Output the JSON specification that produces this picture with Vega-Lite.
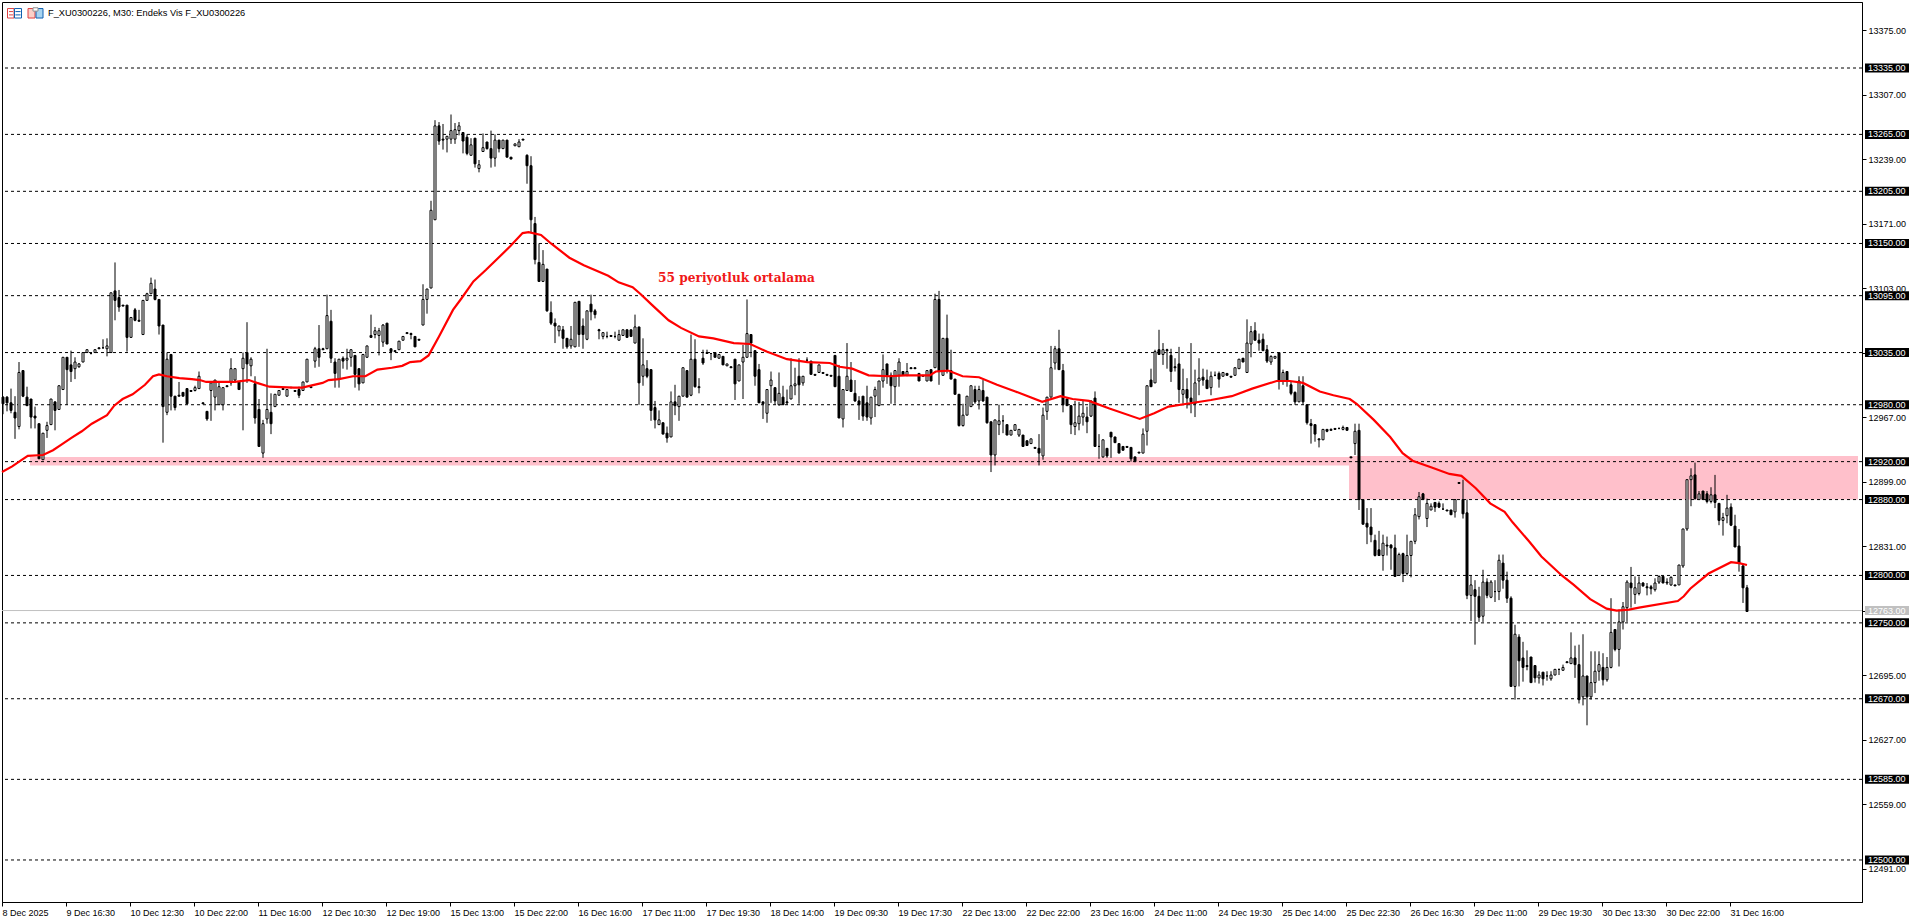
{"$schema":"https://vega.github.io/schema/vega-lite/v6.json","width":1860,"height":900,"autosize":{"type":"none"},"padding":{"left":2,"top":2,"right":58,"bottom":21},"background":"#ffffff","config":{"view":{"stroke":"#000000","strokeWidth":1},"text":{"font":"Liberation Sans"}},"datasets":{"bars":[
{"i":0,"o":12988,"h":12989,"l":12970,"c":12981},{"i":1,"o":12988,"h":12989,"l":12973,"c":12982},{"i":2,"o":12982,"h":12997,"l":12971,"c":12974},{"i":3,"o":12972,"h":12989,"l":12944,"c":12966},{"i":4,"o":12957,"h":13025,"l":12954,"c":13014},{"i":5,"o":13016,"h":13016,"l":12988,"c":12989},{"i":6,"o":12988,"h":12999,"l":12979,"c":12979},{"i":7,"o":12986,"h":12986,"l":12955,"c":12967},{"i":8,"o":12968,"h":12978,"l":12955,"c":12966},{"i":9,"o":12960,"h":12960,"l":12923,"c":12923},
{"i":10,"o":12922,"h":12950,"l":12922,"c":12950},{"i":11,"o":12953,"h":12962,"l":12945,"c":12958},{"i":12,"o":12959,"h":12986,"l":12959,"c":12986},{"i":13,"o":12983,"h":12983,"l":12953,"c":12974},{"i":14,"o":12975,"h":13000,"l":12975,"c":13000},{"i":15,"o":12996,"h":13030,"l":12996,"c":13030},{"i":16,"o":13030,"h":13030,"l":12980,"c":13017},{"i":17,"o":13022,"h":13037,"l":13004,"c":13015},{"i":18,"o":13018,"h":13030,"l":13007,"c":13025},{"i":19,"o":13020,"h":13024,"l":13019,"c":13023},
{"i":20,"o":13025,"h":13035,"l":13025,"c":13035},{"i":21,"o":13035,"h":13038,"l":13035,"c":13038},{"i":22,"o":13034,"h":13035,"l":13033,"c":13034},{"i":23,"o":13035,"h":13038,"l":13035,"c":13038},{"i":24,"o":13040,"h":13040,"l":13039,"c":13039},{"i":25,"o":13040,"h":13049,"l":13039,"c":13040},{"i":26,"o":13039,"h":13050,"l":13031,"c":13042},{"i":27,"o":13035,"h":13098,"l":13035,"c":13098},{"i":28,"o":13100,"h":13130,"l":13069,"c":13090},{"i":29,"o":13093,"h":13101,"l":13078,"c":13083},
{"i":30,"o":13085,"h":13085,"l":13084,"c":13084},{"i":31,"o":13085,"h":13085,"l":13036,"c":13051},{"i":32,"o":13051,"h":13072,"l":13051,"c":13072},{"i":33,"o":13080,"h":13082,"l":13068,"c":13069},{"i":34,"o":13069,"h":13080,"l":13068,"c":13068},{"i":35,"o":13054,"h":13090,"l":13054,"c":13090},{"i":36,"o":13090,"h":13098,"l":13090,"c":13097},{"i":37,"o":13097,"h":13114,"l":13097,"c":13108},{"i":38,"o":13102,"h":13112,"l":13090,"c":13091},{"i":39,"o":13091,"h":13091,"l":13054,"c":13063},
{"i":40,"o":13064,"h":13064,"l":12940,"c":12978},{"i":41,"o":12972,"h":13035,"l":12969,"c":13028},{"i":42,"o":13033,"h":13033,"l":12974,"c":12989},{"i":43,"o":12989,"h":12989,"l":12974,"c":12977},{"i":44,"o":12990,"h":13004,"l":12989,"c":12989},{"i":45,"o":12993,"h":12993,"l":12989,"c":12989},{"i":46,"o":12997,"h":12997,"l":12981,"c":12981},{"i":47,"o":12995,"h":12995,"l":12994,"c":12994},{"i":48,"o":12995,"h":13000,"l":12994,"c":12998},{"i":49,"o":12997,"h":13015,"l":12997,"c":13010},
{"i":50,"o":12982,"h":12982,"l":12981,"c":12981},{"i":51,"o":12973,"h":12973,"l":12963,"c":12965},{"i":52,"o":12995,"h":13003,"l":12963,"c":13003},{"i":53,"o":12988,"h":13006,"l":12974,"c":13006},{"i":54,"o":12980,"h":13003,"l":12980,"c":12999},{"i":55,"o":12980,"h":12998,"l":12974,"c":12998},{"i":56,"o":13000,"h":13000,"l":12999,"c":12999},{"i":57,"o":13003,"h":13029,"l":13000,"c":13018},{"i":58,"o":13006,"h":13018,"l":13003,"c":13018},{"i":59,"o":13004,"h":13004,"l":12996,"c":12996},
{"i":60,"o":13018,"h":13035,"l":12953,"c":13029},{"i":61,"o":13035,"h":13067,"l":13003,"c":13023},{"i":62,"o":13021,"h":13030,"l":13010,"c":13028},{"i":63,"o":13002,"h":13010,"l":12960,"c":12966},{"i":64,"o":12975,"h":12986,"l":12936,"c":12936},{"i":65,"o":12929,"h":12964,"l":12924,"c":12960},{"i":66,"o":12965,"h":13039,"l":12960,"c":12975},{"i":67,"o":12972,"h":12992,"l":12949,"c":12960},{"i":68,"o":12978,"h":12991,"l":12978,"c":12991},{"i":69,"o":12990,"h":12995,"l":12990,"c":12995},
{"i":70,"o":12997,"h":12997,"l":12996,"c":12996},{"i":71,"o":12989,"h":12996,"l":12989,"c":12996},{"i":72,"o":12998,"h":12999,"l":12998,"c":12998},{"i":73,"o":12995,"h":12995,"l":12994,"c":12994},{"i":74,"o":12996,"h":12999,"l":12987,"c":12990},{"i":75,"o":12995,"h":13004,"l":12995,"c":13004},{"i":76,"o":13004,"h":13028,"l":13004,"c":13028},{"i":77,"o":12999,"h":12999,"l":12998,"c":12998},{"i":78,"o":13026,"h":13041,"l":13019,"c":13039},{"i":79,"o":13039,"h":13064,"l":13020,"c":13030},
{"i":80,"o":13039,"h":13040,"l":13038,"c":13038},{"i":81,"o":13039,"h":13096,"l":13039,"c":13074},{"i":82,"o":13068,"h":13080,"l":13024,"c":13029},{"i":83,"o":13025,"h":13029,"l":12998,"c":13013},{"i":84,"o":13007,"h":13028,"l":12998,"c":13028},{"i":85,"o":13029,"h":13031,"l":13018,"c":13026},{"i":86,"o":13027,"h":13039,"l":13017,"c":13029},{"i":87,"o":13030,"h":13038,"l":13020,"c":13038},{"i":88,"o":13032,"h":13032,"l":12998,"c":13012},{"i":89,"o":13018,"h":13018,"l":12995,"c":13002},
{"i":90,"o":13003,"h":13033,"l":13003,"c":13033},{"i":91,"o":13030,"h":13042,"l":13030,"c":13042},{"i":92,"o":13053,"h":13075,"l":13051,"c":13051},{"i":93,"o":13054,"h":13062,"l":13050,"c":13058},{"i":94,"o":13053,"h":13061,"l":13032,"c":13058},{"i":95,"o":13046,"h":13065,"l":13041,"c":13064},{"i":96,"o":13066,"h":13066,"l":13044,"c":13044},{"i":97,"o":13039,"h":13039,"l":13027,"c":13036},{"i":98,"o":13037,"h":13037,"l":13036,"c":13036},{"i":99,"o":13038,"h":13047,"l":13038,"c":13047},
{"i":100,"o":13048,"h":13052,"l":13048,"c":13052},{"i":101,"o":13056,"h":13056,"l":13055,"c":13055},{"i":102,"o":13055,"h":13056,"l":13049,"c":13054},{"i":103,"o":13052,"h":13052,"l":13041,"c":13041},{"i":104,"o":13049,"h":13049,"l":13048,"c":13048},{"i":105,"o":13064,"h":13107,"l":13064,"c":13091},{"i":106,"o":13091,"h":13102,"l":13076,"c":13102},{"i":107,"o":13103,"h":13195,"l":13103,"c":13185},{"i":108,"o":13175,"h":13280,"l":13175,"c":13274},{"i":109,"o":13274,"h":13278,"l":13254,"c":13258},
{"i":110,"o":13260,"h":13276,"l":13249,"c":13259},{"i":111,"o":13260,"h":13263,"l":13246,"c":13263},{"i":112,"o":13260,"h":13286,"l":13255,"c":13269},{"i":113,"o":13260,"h":13277,"l":13255,"c":13270},{"i":114,"o":13269,"h":13278,"l":13264,"c":13274},{"i":115,"o":13267,"h":13267,"l":13245,"c":13258},{"i":116,"o":13262,"h":13265,"l":13243,"c":13245},{"i":117,"o":13243,"h":13261,"l":13243,"c":13254},{"i":118,"o":13261,"h":13261,"l":13230,"c":13234},{"i":119,"o":13229,"h":13238,"l":13225,"c":13233},
{"i":120,"o":13247,"h":13266,"l":13247,"c":13251},{"i":121,"o":13257,"h":13257,"l":13249,"c":13250},{"i":122,"o":13250,"h":13269,"l":13230,"c":13240},{"i":123,"o":13240,"h":13265,"l":13231,"c":13259},{"i":124,"o":13259,"h":13259,"l":13246,"c":13250},{"i":125,"o":13250,"h":13259,"l":13250,"c":13259},{"i":126,"o":13259,"h":13259,"l":13241,"c":13241},{"i":127,"o":13241,"h":13241,"l":13239,"c":13239},{"i":128,"o":13253,"h":13255,"l":13253,"c":13255},{"i":129,"o":13252,"h":13260,"l":13252,"c":13257},
{"i":130,"o":13260,"h":13260,"l":13259,"c":13259},{"i":131,"o":13243,"h":13244,"l":13213,"c":13232},{"i":132,"o":13232,"h":13242,"l":13162,"c":13175},{"i":133,"o":13171,"h":13178,"l":13128,"c":13133},{"i":134,"o":13130,"h":13150,"l":13110,"c":13110},{"i":135,"o":13110,"h":13143,"l":13110,"c":13128},{"i":136,"o":13123,"h":13123,"l":13078,"c":13079},{"i":137,"o":13077,"h":13089,"l":13064,"c":13066},{"i":138,"o":13066,"h":13071,"l":13045,"c":13063},{"i":139,"o":13058,"h":13063,"l":13052,"c":13063},
{"i":140,"o":13059,"h":13063,"l":13039,"c":13050},{"i":141,"o":13050,"h":13050,"l":13039,"c":13041},{"i":142,"o":13042,"h":13063,"l":13039,"c":13049},{"i":143,"o":13041,"h":13088,"l":13041,"c":13088},{"i":144,"o":13089,"h":13089,"l":13041,"c":13054},{"i":145,"o":13063,"h":13071,"l":13039,"c":13054},{"i":146,"o":13049,"h":13079,"l":13048,"c":13079},{"i":147,"o":13086,"h":13096,"l":13069,"c":13078},{"i":148,"o":13079,"h":13081,"l":13071,"c":13075},{"i":149,"o":13059,"h":13060,"l":13049,"c":13058},
{"i":150,"o":13052,"h":13056,"l":13049,"c":13056},{"i":151,"o":13052,"h":13057,"l":13050,"c":13052},{"i":152,"o":13053,"h":13053,"l":13052,"c":13052},{"i":153,"o":13052,"h":13057,"l":13050,"c":13052},{"i":154,"o":13048,"h":13059,"l":13048,"c":13054},{"i":155,"o":13053,"h":13059,"l":13053,"c":13059},{"i":156,"o":13059,"h":13059,"l":13051,"c":13051},{"i":157,"o":13059,"h":13059,"l":13052,"c":13052},{"i":158,"o":13045,"h":13075,"l":13045,"c":13062},{"i":159,"o":13062,"h":13062,"l":12980,"c":13003},
{"i":160,"o":13010,"h":13050,"l":13000,"c":13022},{"i":161,"o":13018,"h":13027,"l":13008,"c":13010},{"i":162,"o":13017,"h":13017,"l":12963,"c":12974},{"i":163,"o":12977,"h":12984,"l":12955,"c":12964},{"i":164,"o":12959,"h":12974,"l":12959,"c":12964},{"i":165,"o":12961,"h":12961,"l":12949,"c":12949},{"i":166,"o":12950,"h":12957,"l":12940,"c":12945},{"i":167,"o":12946,"h":12994,"l":12946,"c":12983},{"i":168,"o":12983,"h":13001,"l":12969,"c":12979},{"i":169,"o":12978,"h":12989,"l":12963,"c":12989},
{"i":170,"o":12989,"h":13019,"l":12989,"c":13019},{"i":171,"o":13016,"h":13016,"l":12988,"c":12988},{"i":172,"o":12990,"h":13054,"l":12989,"c":13028},{"i":173,"o":13028,"h":13049,"l":12998,"c":12999},{"i":174,"o":12999,"h":13008,"l":12992,"c":12998},{"i":175,"o":13029,"h":13038,"l":13022,"c":13024},{"i":176,"o":13035,"h":13038,"l":13034,"c":13034},{"i":177,"o":13034,"h":13034,"l":13027,"c":13034},{"i":178,"o":13035,"h":13035,"l":13030,"c":13030},{"i":179,"o":13029,"h":13033,"l":13029,"c":13033},
{"i":180,"o":13031,"h":13031,"l":13022,"c":13022},{"i":181,"o":13021,"h":13023,"l":13021,"c":13023},{"i":182,"o":13020,"h":13020,"l":13019,"c":13019},{"i":183,"o":13028,"h":13028,"l":12985,"c":13002},{"i":184,"o":13005,"h":13022,"l":13005,"c":13022},{"i":185,"o":13025,"h":13043,"l":12986,"c":13030},{"i":186,"o":13030,"h":13091,"l":13030,"c":13055},{"i":187,"o":13054,"h":13054,"l":13030,"c":13045},{"i":188,"o":13037,"h":13037,"l":13000,"c":13010},{"i":189,"o":13017,"h":13023,"l":12982,"c":12982},
{"i":190,"o":12983,"h":12983,"l":12965,"c":12981},{"i":191,"o":12971,"h":12996,"l":12961,"c":12996},{"i":192,"o":13000,"h":13015,"l":12982,"c":13006},{"i":193,"o":12998,"h":12998,"l":12980,"c":12984},{"i":194,"o":12980,"h":13014,"l":12979,"c":12992},{"i":195,"o":12988,"h":13000,"l":12980,"c":12980},{"i":196,"o":12983,"h":12996,"l":12980,"c":12982},{"i":197,"o":12986,"h":13029,"l":12986,"c":13000},{"i":198,"o":13000,"h":13019,"l":12990,"c":13002},{"i":199,"o":13010,"h":13029,"l":12981,"c":13001},
{"i":200,"o":13003,"h":13010,"l":13000,"c":13010},{"i":201,"o":13027,"h":13030,"l":13024,"c":13027},{"i":202,"o":13026,"h":13026,"l":13012,"c":13012},{"i":203,"o":13012,"h":13012,"l":13011,"c":13011},{"i":204,"o":13014,"h":13022,"l":13014,"c":13022},{"i":205,"o":13014,"h":13014,"l":13013,"c":13013},{"i":206,"o":13012,"h":13012,"l":13011,"c":13011},{"i":207,"o":13011,"h":13011,"l":13010,"c":13010},{"i":208,"o":13032,"h":13032,"l":12999,"c":12999},{"i":209,"o":13010,"h":13022,"l":12966,"c":12966},
{"i":210,"o":12965,"h":12996,"l":12956,"c":12996},{"i":211,"o":12995,"h":13045,"l":12995,"c":13010},{"i":212,"o":13006,"h":13025,"l":12994,"c":12994},{"i":213,"o":12992,"h":13006,"l":12983,"c":12984},{"i":214,"o":12984,"h":12989,"l":12964,"c":12980},{"i":215,"o":12989,"h":12989,"l":12963,"c":12968},{"i":216,"o":12982,"h":13000,"l":12963,"c":12967},{"i":217,"o":12966,"h":12988,"l":12959,"c":12988},{"i":218,"o":12989,"h":12999,"l":12967,"c":12996},{"i":219,"o":12979,"h":13005,"l":12979,"c":13005},
{"i":220,"o":13005,"h":13033,"l":12998,"c":13017},{"i":221,"o":13023,"h":13023,"l":13002,"c":13010},{"i":222,"o":13011,"h":13014,"l":12981,"c":13000},{"i":223,"o":12999,"h":13016,"l":12981,"c":13016},{"i":224,"o":13011,"h":13029,"l":12999,"c":13025},{"i":225,"o":13015,"h":13015,"l":13011,"c":13011},{"i":226,"o":13011,"h":13024,"l":13010,"c":13015},{"i":227,"o":13019,"h":13019,"l":13018,"c":13018},{"i":228,"o":13019,"h":13019,"l":13018,"c":13018},{"i":229,"o":13013,"h":13013,"l":13005,"c":13005},
{"i":230,"o":13011,"h":13011,"l":13010,"c":13010},{"i":231,"o":13005,"h":13016,"l":13005,"c":13016},{"i":232,"o":13017,"h":13017,"l":13005,"c":13005},{"i":233,"o":13019,"h":13097,"l":13019,"c":13091},{"i":234,"o":13091,"h":13100,"l":13001,"c":13015},{"i":235,"o":13011,"h":13050,"l":13011,"c":13050},{"i":236,"o":13050,"h":13075,"l":13013,"c":13017},{"i":237,"o":13016,"h":13038,"l":13007,"c":13007},{"i":238,"o":13007,"h":13007,"l":12991,"c":12991},{"i":239,"o":12991,"h":12991,"l":12957,"c":12958},
{"i":240,"o":12958,"h":12981,"l":12957,"c":12969},{"i":241,"o":12969,"h":12989,"l":12969,"c":12989},{"i":242,"o":12978,"h":13000,"l":12978,"c":13000},{"i":243,"o":12996,"h":13000,"l":12981,"c":12983},{"i":244,"o":12984,"h":13000,"l":12975,"c":12996},{"i":245,"o":12995,"h":13006,"l":12983,"c":12984},{"i":246,"o":12988,"h":12988,"l":12960,"c":12961},{"i":247,"o":12962,"h":12962,"l":12909,"c":12927},{"i":248,"o":12927,"h":12964,"l":12916,"c":12964},{"i":249,"o":12959,"h":12980,"l":12948,"c":12963},
{"i":250,"o":12963,"h":12969,"l":12950,"c":12963},{"i":251,"o":12959,"h":12959,"l":12948,"c":12948},{"i":252,"o":12948,"h":12953,"l":12948,"c":12953},{"i":253,"o":12953,"h":12959,"l":12953,"c":12959},{"i":254,"o":12948,"h":12954,"l":12946,"c":12954},{"i":255,"o":12948,"h":12948,"l":12936,"c":12936},{"i":256,"o":12942,"h":12942,"l":12937,"c":12937},{"i":257,"o":12939,"h":12944,"l":12939,"c":12944},{"i":258,"o":12935,"h":12935,"l":12934,"c":12934},{"i":259,"o":12934,"h":12949,"l":12916,"c":12929},
{"i":260,"o":12926,"h":12977,"l":12922,"c":12969},{"i":261,"o":12973,"h":12988,"l":12964,"c":12988},{"i":262,"o":12988,"h":13042,"l":12988,"c":13019},{"i":263,"o":13024,"h":13042,"l":13017,"c":13039},{"i":264,"o":13039,"h":13059,"l":13017,"c":13017},{"i":265,"o":13016,"h":13023,"l":12972,"c":12980},{"i":266,"o":12986,"h":12986,"l":12979,"c":12979},{"i":267,"o":12979,"h":12979,"l":12949,"c":12959},{"i":268,"o":12957,"h":12984,"l":12948,"c":12961},{"i":269,"o":12960,"h":12983,"l":12953,"c":12968},
{"i":270,"o":12967,"h":12984,"l":12958,"c":12971},{"i":271,"o":12967,"h":12978,"l":12950,"c":12962},{"i":272,"o":12968,"h":12984,"l":12967,"c":12984},{"i":273,"o":12987,"h":12994,"l":12936,"c":12936},{"i":274,"o":12936,"h":12949,"l":12923,"c":12936},{"i":275,"o":12925,"h":12943,"l":12924,"c":12943},{"i":276,"o":12934,"h":12934,"l":12924,"c":12926},{"i":277,"o":12951,"h":12951,"l":12924,"c":12946},{"i":278,"o":12946,"h":12946,"l":12940,"c":12940},{"i":279,"o":12939,"h":12939,"l":12929,"c":12929},
{"i":280,"o":12936,"h":12936,"l":12932,"c":12932},{"i":281,"o":12936,"h":12936,"l":12935,"c":12935},{"i":282,"o":12935,"h":12935,"l":12920,"c":12923},{"i":283,"o":12925,"h":12925,"l":12920,"c":12920},{"i":284,"o":12930,"h":12930,"l":12929,"c":12929},{"i":285,"o":12929,"h":12955,"l":12929,"c":12949},{"i":286,"o":12952,"h":13000,"l":12937,"c":13000},{"i":287,"o":13006,"h":13018,"l":12999,"c":12999},{"i":288,"o":13003,"h":13038,"l":13003,"c":13036},{"i":289,"o":13038,"h":13059,"l":13033,"c":13033},
{"i":290,"o":13033,"h":13045,"l":13022,"c":13038},{"i":291,"o":13038,"h":13039,"l":13018,"c":13037},{"i":292,"o":13032,"h":13039,"l":13004,"c":13015},{"i":293,"o":13020,"h":13029,"l":13015,"c":13019},{"i":294,"o":13023,"h":13041,"l":12982,"c":12996},{"i":295,"o":12991,"h":13018,"l":12981,"c":12996},{"i":296,"o":12996,"h":13008,"l":12976,"c":12987},{"i":297,"o":12987,"h":13045,"l":12971,"c":12983},{"i":298,"o":12981,"h":13017,"l":12967,"c":13003},{"i":299,"o":13005,"h":13029,"l":12990,"c":13008},
{"i":300,"o":13009,"h":13018,"l":13000,"c":13006},{"i":301,"o":13006,"h":13017,"l":12997,"c":12997},{"i":302,"o":12998,"h":13015,"l":12990,"c":13010},{"i":303,"o":13011,"h":13015,"l":13010,"c":13011},{"i":304,"o":13013,"h":13015,"l":12998,"c":13007},{"i":305,"o":13010,"h":13014,"l":13010,"c":13014},{"i":306,"o":13013,"h":13013,"l":13011,"c":13011},{"i":307,"o":13010,"h":13010,"l":13009,"c":13009},{"i":308,"o":13011,"h":13019,"l":13011,"c":13019},{"i":309,"o":13018,"h":13028,"l":13018,"c":13028},
{"i":310,"o":13029,"h":13029,"l":13025,"c":13025},{"i":311,"o":13014,"h":13070,"l":13014,"c":13045},{"i":312,"o":13044,"h":13063,"l":13030,"c":13057},{"i":313,"o":13058,"h":13067,"l":13048,"c":13048},{"i":314,"o":13048,"h":13055,"l":13037,"c":13045},{"i":315,"o":13049,"h":13055,"l":13037,"c":13037},{"i":316,"o":13038,"h":13043,"l":13024,"c":13026},{"i":317,"o":13025,"h":13032,"l":13022,"c":13031},{"i":318,"o":13029,"h":13031,"l":13029,"c":13031},{"i":319,"o":13035,"h":13035,"l":12996,"c":13005},
{"i":320,"o":13005,"h":13017,"l":13001,"c":13014},{"i":321,"o":13015,"h":13015,"l":12999,"c":13006},{"i":322,"o":13001,"h":13004,"l":12990,"c":12992},{"i":323,"o":12993,"h":12994,"l":12980,"c":12983},{"i":324,"o":12983,"h":13010,"l":12983,"c":13005},{"i":325,"o":13000,"h":13010,"l":12980,"c":12983},{"i":326,"o":12980,"h":12980,"l":12959,"c":12961},{"i":327,"o":12960,"h":12965,"l":12939,"c":12958},{"i":328,"o":12959,"h":12959,"l":12941,"c":12949},{"i":329,"o":12944,"h":12944,"l":12935,"c":12943},
{"i":330,"o":12943,"h":12954,"l":12943,"c":12954},{"i":331,"o":12954,"h":12954,"l":12951,"c":12952},{"i":332,"o":12954,"h":12955,"l":12953,"c":12953},{"i":333,"o":12955,"h":12955,"l":12954,"c":12954},{"i":334,"o":12955,"h":12956,"l":12954,"c":12955},{"i":335,"o":12954,"h":12958,"l":12953,"c":12956},{"i":336,"o":12956,"h":12956,"l":12953,"c":12953},{"i":337,"o":12925,"h":12925,"l":12924,"c":12924},{"i":338,"o":12939,"h":12960,"l":12927,"c":12952},{"i":339,"o":12953,"h":12960,"l":12869,"c":12880},
{"i":340,"o":12880,"h":12880,"l":12854,"c":12854},{"i":341,"o":12855,"h":12871,"l":12833,"c":12851},{"i":342,"o":12851,"h":12871,"l":12835,"c":12843},{"i":343,"o":12837,"h":12843,"l":12820,"c":12821},{"i":344,"o":12827,"h":12847,"l":12821,"c":12821},{"i":345,"o":12821,"h":12843,"l":12805,"c":12834},{"i":346,"o":12832,"h":12841,"l":12821,"c":12831},{"i":347,"o":12832,"h":12833,"l":12806,"c":12829},{"i":348,"o":12829,"h":12843,"l":12799,"c":12799},{"i":349,"o":12800,"h":12824,"l":12800,"c":12822},
{"i":350,"o":12823,"h":12824,"l":12793,"c":12802},{"i":351,"o":12802,"h":12843,"l":12800,"c":12821},{"i":352,"o":12821,"h":12836,"l":12798,"c":12836},{"i":353,"o":12836,"h":12871,"l":12833,"c":12864},{"i":354,"o":12862,"h":12888,"l":12859,"c":12883},{"i":355,"o":12886,"h":12887,"l":12880,"c":12880},{"i":356,"o":12860,"h":12881,"l":12851,"c":12876},{"i":357,"o":12869,"h":12876,"l":12869,"c":12873},{"i":358,"o":12877,"h":12877,"l":12867,"c":12872},{"i":359,"o":12876,"h":12878,"l":12871,"c":12872},
{"i":360,"o":12870,"h":12876,"l":12869,"c":12870},{"i":361,"o":12869,"h":12869,"l":12868,"c":12868},{"i":362,"o":12869,"h":12869,"l":12864,"c":12864},{"i":363,"o":12867,"h":12880,"l":12861,"c":12880},{"i":364,"o":12898,"h":12898,"l":12897,"c":12897},{"i":365,"o":12880,"h":12901,"l":12860,"c":12865},{"i":366,"o":12866,"h":12880,"l":12775,"c":12779},{"i":367,"o":12779,"h":12800,"l":12752,"c":12790},{"i":368,"o":12785,"h":12795,"l":12727,"c":12778},{"i":369,"o":12778,"h":12788,"l":12751,"c":12756},
{"i":370,"o":12757,"h":12806,"l":12751,"c":12793},{"i":371,"o":12793,"h":12797,"l":12776,"c":12779},{"i":372,"o":12777,"h":12795,"l":12776,"c":12793},{"i":373,"o":12783,"h":12795,"l":12772,"c":12783},{"i":374,"o":12783,"h":12822,"l":12774,"c":12816},{"i":375,"o":12813,"h":12822,"l":12786,"c":12795},{"i":376,"o":12795,"h":12804,"l":12771,"c":12776},{"i":377,"o":12776,"h":12778,"l":12683,"c":12683},{"i":378,"o":12683,"h":12748,"l":12669,"c":12738},{"i":379,"o":12735,"h":12738,"l":12683,"c":12710},
{"i":380,"o":12713,"h":12730,"l":12688,"c":12703},{"i":381,"o":12705,"h":12721,"l":12700,"c":12704},{"i":382,"o":12714,"h":12714,"l":12687,"c":12687},{"i":383,"o":12705,"h":12705,"l":12687,"c":12692},{"i":384,"o":12692,"h":12699,"l":12686,"c":12695},{"i":385,"o":12698,"h":12698,"l":12684,"c":12691},{"i":386,"o":12694,"h":12699,"l":12689,"c":12694},{"i":387,"o":12691,"h":12699,"l":12689,"c":12695},{"i":388,"o":12695,"h":12701,"l":12695,"c":12701},{"i":389,"o":12701,"h":12701,"l":12695,"c":12701},
{"i":390,"o":12700,"h":12706,"l":12700,"c":12703},{"i":391,"o":12709,"h":12709,"l":12708,"c":12708},{"i":392,"o":12707,"h":12740,"l":12707,"c":12713},{"i":393,"o":12713,"h":12726,"l":12692,"c":12706},{"i":394,"o":12706,"h":12727,"l":12665,"c":12669},{"i":395,"o":12672,"h":12738,"l":12663,"c":12694},{"i":396,"o":12694,"h":12694,"l":12642,"c":12672},{"i":397,"o":12672,"h":12720,"l":12669,"c":12687},{"i":398,"o":12687,"h":12720,"l":12676,"c":12699},{"i":399,"o":12699,"h":12720,"l":12689,"c":12706},
{"i":400,"o":12703,"h":12718,"l":12684,"c":12690},{"i":401,"o":12690,"h":12714,"l":12688,"c":12703},{"i":402,"o":12703,"h":12776,"l":12702,"c":12740},{"i":403,"o":12743,"h":12743,"l":12720,"c":12722},{"i":404,"o":12722,"h":12764,"l":12704,"c":12751},{"i":405,"o":12751,"h":12772,"l":12743,"c":12767},{"i":406,"o":12766,"h":12795,"l":12751,"c":12793},{"i":407,"o":12792,"h":12809,"l":12766,"c":12787},{"i":408,"o":12780,"h":12799,"l":12770,"c":12787},{"i":409,"o":12781,"h":12799,"l":12779,"c":12792},
{"i":410,"o":12792,"h":12793,"l":12788,"c":12789},{"i":411,"o":12788,"h":12792,"l":12779,"c":12787},{"i":412,"o":12788,"h":12790,"l":12780,"c":12786},{"i":413,"o":12785,"h":12797,"l":12783,"c":12792},{"i":414,"o":12793,"h":12800,"l":12791,"c":12799},{"i":415,"o":12799,"h":12799,"l":12792,"c":12792},{"i":416,"o":12793,"h":12797,"l":12790,"c":12792},{"i":417,"o":12790,"h":12799,"l":12789,"c":12798},{"i":418,"o":12790,"h":12790,"l":12789,"c":12789},{"i":419,"o":12790,"h":12811,"l":12790,"c":12811},
{"i":420,"o":12810,"h":12849,"l":12808,"c":12849},{"i":421,"o":12849,"h":12901,"l":12847,"c":12901},{"i":422,"o":12901,"h":12913,"l":12873,"c":12905},{"i":423,"o":12906,"h":12919,"l":12880,"c":12881},{"i":424,"o":12880,"h":12889,"l":12880,"c":12886},{"i":425,"o":12889,"h":12889,"l":12880,"c":12880},{"i":426,"o":12886,"h":12889,"l":12876,"c":12878},{"i":427,"o":12878,"h":12893,"l":12876,"c":12885},{"i":428,"o":12885,"h":12906,"l":12871,"c":12877},{"i":429,"o":12876,"h":12876,"l":12853,"c":12858},
{"i":430,"o":12858,"h":12866,"l":12842,"c":12861},{"i":431,"o":12863,"h":12885,"l":12855,"c":12871},{"i":432,"o":12872,"h":12876,"l":12852,"c":12853},{"i":433,"o":12852,"h":12864,"l":12830,"c":12830},{"i":434,"o":12831,"h":12849,"l":12804,"c":12813},{"i":435,"o":12810,"h":12811,"l":12771,"c":12787},{"i":436,"o":12787,"h":12790,"l":12762,"c":12762}
],"ma":[{"i":-0.25,"v":12909},{"i":2.3,"v":12915},{"i":4.4,"v":12921},{"i":6.2,"v":12926},{"i":10,"v":12927},{"i":12.5,"v":12932},{"i":14.6,"v":12938},{"i":17.1,"v":12945},{"i":19.7,"v":12952},{"i":22.2,"v":12960},{"i":26,"v":12969},{"i":27.8,"v":12979},{"i":29.9,"v":12986},{"i":32.4,"v":12991},{"i":35.5,"v":13001},{"i":37.5,"v":13010},{"i":39,"v":13012},{"i":41,"v":13010},{"i":44.1,"v":13008},{"i":47.2,"v":13007},{"i":49.2,"v":13006},{"i":50.8,"v":13004},{"i":57.9,"v":13004},{"i":61.5,"v":13006},{"i":63.5,"v":13003},{"i":66.6,"v":12999},{"i":72.7,"v":12998},{"i":74.8,"v":12998},{"i":79.9,"v":13003},{"i":81.4,"v":13006},{"i":84,"v":13007},{"i":87.5,"v":13010},{"i":90.6,"v":13010},{"i":93.6,"v":13017},{"i":97.2,"v":13019},{"i":99.8,"v":13021},{"i":101.8,"v":13025},{"i":104.4,"v":13026},{"i":106.4,"v":13032},{"i":109,"v":13052},{"i":112.5,"v":13080},{"i":114.6,"v":13092},{"i":117.6,"v":13110},{"i":120.7,"v":13122},{"i":126.8,"v":13147},{"i":129.9,"v":13161},{"i":131.4,"v":13162},{"i":134.5,"v":13159},{"i":137,"v":13150},{"i":141.6,"v":13135},{"i":145.2,"v":13127},{"i":151.3,"v":13116},{"i":153.9,"v":13109},{"i":157.4,"v":13104},{"i":159.3,"v":13097},{"i":162.3,"v":13085},{"i":166.4,"v":13069},{"i":169.5,"v":13061},{"i":174,"v":13052},{"i":177.6,"v":13050},{"i":182.7,"v":13045},{"i":186.8,"v":13044},{"i":190.9,"v":13036},{"i":196,"v":13028},{"i":201.1,"v":13025},{"i":206.7,"v":13024},{"i":209.2,"v":13020},{"i":212.3,"v":13018},{"i":216.4,"v":13011},{"i":221.5,"v":13010},{"i":225.6,"v":13011},{"i":231.7,"v":13011},{"i":233.2,"v":13015},{"i":236.3,"v":13016},{"i":239.9,"v":13010},{"i":244,"v":13009},{"i":248.5,"v":13001},{"i":253.1,"v":12994},{"i":259.8,"v":12983},{"i":264.4,"v":12989},{"i":267.4,"v":12986},{"i":271.5,"v":12984},{"i":276.6,"v":12976},{"i":284.2,"v":12965},{"i":287.8,"v":12971},{"i":291.4,"v":12978},{"i":296,"v":12981},{"i":302,"v":12985},{"i":307.2,"v":12989},{"i":312.3,"v":12997},{"i":318.4,"v":13005},{"i":321.7,"v":13005},{"i":325,"v":13003},{"i":329.2,"v":12994},{"i":332.6,"v":12990},{"i":336.7,"v":12986},{"i":338.4,"v":12981},{"i":342.7,"v":12964},{"i":346.8,"v":12946},{"i":349.9,"v":12929},{"i":352.4,"v":12921},{"i":357,"v":12914},{"i":361.6,"v":12907},{"i":364.6,"v":12905},{"i":368.2,"v":12892},{"i":371.8,"v":12876},{"i":375.4,"v":12867},{"i":377.4,"v":12856},{"i":381.5,"v":12836},{"i":384.6,"v":12820},{"i":389.7,"v":12800},{"i":392.7,"v":12790},{"i":396.8,"v":12775},{"i":400.9,"v":12765},{"i":403.4,"v":12763},{"i":406.5,"v":12764},{"i":409,"v":12766},{"i":418.7,"v":12773},{"i":420.2,"v":12778},{"i":421.8,"v":12786},{"i":426.4,"v":12802},{"i":432,"v":12814},{"i":434,"v":12813},{"i":436,"v":12811}],
"zones":[{"start":6.75,"end":336.5,"top":12925,"bottom":12916},{"start":336.5,"end":463.75,"top":12926,"bottom":12880}],
"levels":[{"price":13335,"label":"13335.00"},{"price":13265,"label":"13265.00"},{"price":13205,"label":"13205.00"},{"price":13150,"label":"13150.00"},{"price":13095,"label":"13095.00"},{"price":13035,"label":"13035.00"},{"price":12980,"label":"12980.00"},{"price":12920,"label":"12920.00"},{"price":12880,"label":"12880.00"},{"price":12800,"label":"12800.00"},{"price":12750,"label":"12750.00"},{"price":12670,"label":"12670.00"},{"price":12585,"label":"12585.00"},{"price":12500,"label":"12500.00"}],
"last":[{"price":12763,"label":"12763.00"}]},
"layer":[
{"data":{"name":"zones"},"mark":{"type":"rect","color":"#FFC0CB"},"encoding":{"x":{"field":"start","type":"quantitative","title":null,"scale":{"domain":[-0.25,464.75],"nice":false,"zero":false,"padding":0},"axis":{"values":[-0.25,15.75,31.75,47.75,63.75,79.75,95.75,111.75,127.75,143.75,159.75,175.75,191.75,207.75,223.75,239.75,255.75,271.75,287.75,303.75,319.75,335.75,351.75,367.75,383.75,399.75,415.75,431.75],"labelExpr":"['8 Dec 2025','9 Dec 16:30','10 Dec 12:30','10 Dec 22:00','11 Dec 16:00','12 Dec 10:30','12 Dec 19:00','15 Dec 13:00','15 Dec 22:00','16 Dec 16:00','17 Dec 11:00','17 Dec 19:30','18 Dec 14:00','19 Dec 09:30','19 Dec 17:30','22 Dec 13:00','22 Dec 22:00','23 Dec 16:00','24 Dec 11:00','24 Dec 19:30','25 Dec 14:00','25 Dec 22:30','26 Dec 16:30','29 Dec 11:00','29 Dec 19:30','30 Dec 13:30','30 Dec 22:00','31 Dec 16:00'][round((datum.value+0.25)/16)]","labelAlign":"left","labelBaseline":"top","labelPadding":2,"labelFont":"Liberation Sans","labelFontSize":9,"labelColor":"#000000","labelOverlap":false,"labelBound":false,"labelFlush":false,"tickSize":4,"tickColor":"#000000","domainColor":"#000000","grid":false,"title":null}},"x2":{"field":"end"},"y":{"field":"top","type":"quantitative","title":null,"scale":{"domain":[12455.7,13404.6],"nice":false,"zero":false},"axis":{"orient":"right","values":[13375,13341,13307,13273,13239,13205,13171,13137,13103,13069,13035,13001,12967,12933,12899,12865,12831,12797,12763,12729,12695,12661,12627,12593,12559,12525,12491],"format":".2f","labelFont":"Liberation Sans","labelFontSize":9,"labelColor":"#000000","labelPadding":2,"labelOverlap":false,"labelBound":false,"labelFlush":false,"tickSize":4,"tickColor":"#000000","domainColor":"#000000","grid":false,"title":null}},"y2":{"field":"bottom"}}},
{"data":{"name":"levels"},"mark":{"type":"rule","color":"#000000","strokeWidth":1,"strokeDash":[3,3]},"encoding":{"y":{"field":"price","type":"quantitative"}}},
{"data":{"name":"last"},"mark":{"type":"rule","color":"#C0C0C0","strokeWidth":1},"encoding":{"y":{"field":"price","type":"quantitative"}}},
{"data":{"name":"bars"},"mark":{"type":"rule","color":"#000000","strokeWidth":1},"encoding":{"x":{"field":"i","type":"quantitative"},"y":{"field":"l","type":"quantitative"},"y2":{"field":"h"}}},
{"data":{"name":"bars"},"mark":{"type":"bar","width":2,"stroke":"#000000","strokeWidth":1},"encoding":{"x":{"field":"i","type":"quantitative"},"y":{"field":"o","type":"quantitative"},"y2":{"field":"c"},"fill":{"condition":{"test":"datum.c>datum.o","value":"#ffffff"},"value":"#000000"}}},
{"data":{"name":"ma"},"mark":{"type":"line","color":"#FF0000","strokeWidth":2.2},"encoding":{"x":{"field":"i","type":"quantitative"},"y":{"field":"v","type":"quantitative"}}},
{"data":{"name":"levels"},"mark":{"type":"rule","color":"#000000","strokeWidth":9},"encoding":{"x":{"datum":465.5,"type":"quantitative"},"x2":{"datum":476.5},"y":{"field":"price","type":"quantitative"}}},
{"data":{"name":"last"},"mark":{"type":"rule","color":"#C0C0C0","strokeWidth":9},"encoding":{"x":{"datum":465.5,"type":"quantitative"},"x2":{"datum":476.5},"y":{"field":"price","type":"quantitative"}}},
{"data":{"name":"levels"},"mark":{"type":"text","align":"left","baseline":"middle","color":"#ffffff","fontSize":9},"encoding":{"x":{"datum":466.25,"type":"quantitative"},"y":{"field":"price","type":"quantitative"},"text":{"field":"label"}}},
{"data":{"name":"last"},"mark":{"type":"text","align":"left","baseline":"middle","color":"#ffffff","fontSize":9},"encoding":{"x":{"datum":466.25,"type":"quantitative"},"y":{"field":"price","type":"quantitative"},"text":{"field":"label"}}},
{"data":{"values":[{"label":"55 periyotluk ortalama"}]},"mark":{"type":"text","align":"left","baseline":"middle","color":"#F01818","font":"DejaVu Serif","fontWeight":"bold","fontSize":12.2},"encoding":{"x":{"datum":163.75,"type":"quantitative"},"y":{"datum":13113.6,"type":"quantitative"},"text":{"field":"label"}}},
{"data":{"values":[{"label":"F_XU0300226, M30:  Endeks Vis F_XU0300226"}]},"mark":{"type":"text","align":"left","baseline":"middle","color":"#000000","fontSize":9.3},"encoding":{"x":{"datum":11.25,"type":"quantitative"},"y":{"datum":13393,"type":"quantitative"},"text":{"field":"label"}}},
{"data":{"values":[{"icon":"a"}]},"mark":{"type":"rect","fill":"#ffffff","stroke":"#E04040","strokeWidth":1},"encoding":{"x":{"datum":1.125,"type":"quantitative"},"x2":{"datum":2.75},"y":{"datum":13397.7,"type":"quantitative"},"y2":{"datum":13387.7}}},
{"data":{"values":[{"icon":"b"}]},"mark":{"type":"rect","fill":"#ffffff","stroke":"#1060B0","strokeWidth":1},"encoding":{"x":{"datum":2.875,"type":"quantitative"},"x2":{"datum":4.625},"y":{"datum":13397.7,"type":"quantitative"},"y2":{"datum":13387.7}}},
{"data":{"values":[{"icon":"c"}]},"mark":{"type":"rule","color":"#E04040","strokeWidth":1},"encoding":{"x":{"datum":1.5,"type":"quantitative"},"x2":{"datum":2.5},"y":{"datum":13394.5,"type":"quantitative"}}},
{"data":{"values":[{"icon":"d"}]},"mark":{"type":"rule","color":"#E04040","strokeWidth":1},"encoding":{"x":{"datum":1.5,"type":"quantitative"},"x2":{"datum":2.5},"y":{"datum":13391,"type":"quantitative"}}},
{"data":{"values":[{"icon":"e"}]},"mark":{"type":"rule","color":"#1060B0","strokeWidth":1},"encoding":{"x":{"datum":3.1,"type":"quantitative"},"x2":{"datum":4.4},"y":{"datum":13394.5,"type":"quantitative"}}},
{"data":{"values":[{"icon":"f"}]},"mark":{"type":"rule","color":"#1060B0","strokeWidth":1},"encoding":{"x":{"datum":3.1,"type":"quantitative"},"x2":{"datum":4.4},"y":{"datum":13391,"type":"quantitative"}}},
{"data":{"values":[{"icon":"g"}]},"mark":{"type":"rect","fill":"#FBD0C8","stroke":"#E04040","strokeWidth":1},"encoding":{"x":{"datum":6.25,"type":"quantitative"},"x2":{"datum":8.0},"y":{"datum":13397.7,"type":"quantitative"},"y2":{"datum":13387.7}}},
{"data":{"values":[{"icon":"h"}]},"mark":{"type":"rect","fill":"#A8D4F0","stroke":"#1060B0","strokeWidth":1},"encoding":{"x":{"datum":8.25,"type":"quantitative"},"x2":{"datum":10},"y":{"datum":13397.7,"type":"quantitative"},"y2":{"datum":13387.7}}},
{"data":{"values":[{"icon":"i"}]},"mark":{"type":"rect","fill":"#ffffff","stroke":"#909090","strokeWidth":1},"encoding":{"x":{"datum":7.5,"type":"quantitative"},"x2":{"datum":8.75},"y":{"datum":13398.5,"type":"quantitative"},"y2":{"datum":13395}}}
]}
